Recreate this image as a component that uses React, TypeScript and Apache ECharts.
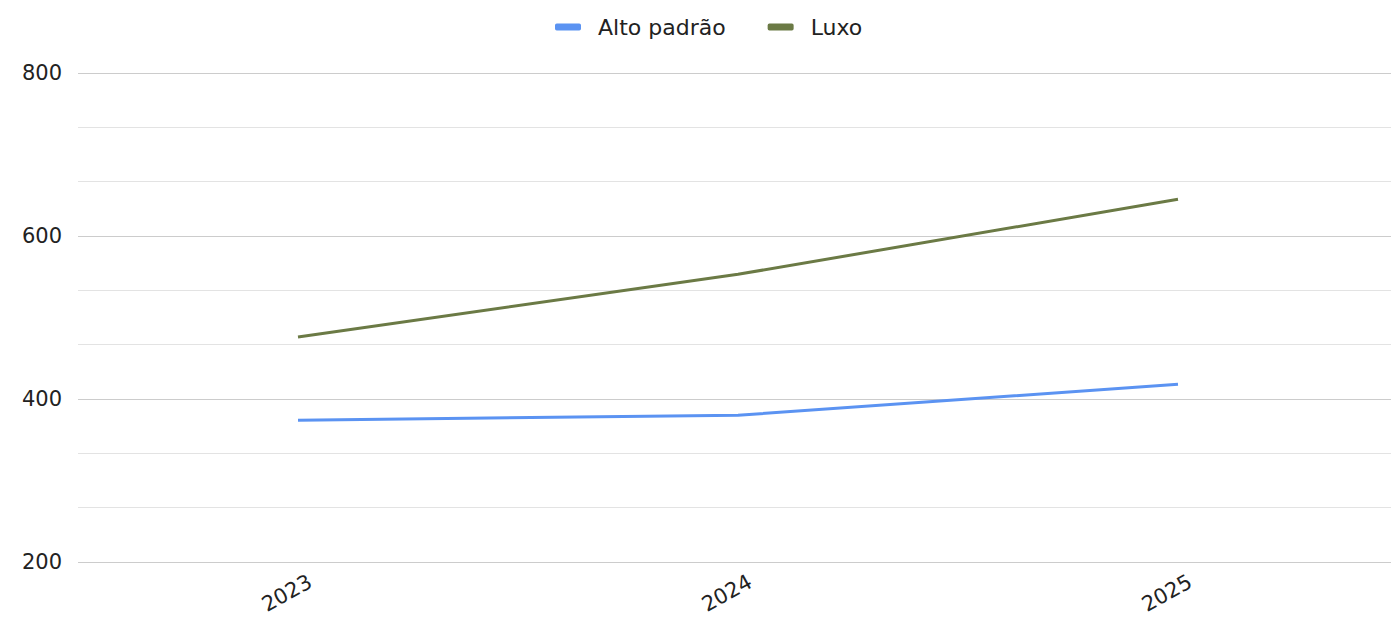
import React, { useEffect, useRef } from "react";
import * as echarts from "echarts";

const years = ["2023", "2024", "2025"];
const altoPadrao = [374, 380, 418];
const luxo = [476, 553, 645];
const yTicks = { min: 200, max: 800, interval: 200 };

export default function App() {
  const ref = useRef<HTMLDivElement>(null);

  useEffect(() => {
    const chart = echarts.init(ref.current!, undefined, { renderer: "svg" });
    const font = "'DejaVu Sans', 'Liberation Sans', sans-serif";
    chart.setOption({
      animation: false,
      textStyle: { fontFamily: font },
      legend: {
        top: 11,
        left: 550,
        itemWidth: 26,
        itemHeight: 7,
        itemGap: 42,
        icon: "roundRect",
        textStyle: { fontSize: 22, color: "#222", fontFamily: font, padding: [0, 0, 0, 12] },
        data: ["Alto padrão", "Luxo"],
      },
      grid: { left: 78, top: 73, width: 1320, height: 489, containLabel: false },
      xAxis: {
        type: "category",
        data: years,
        boundaryGap: true,
        axisLine: { show: false },
        axisTick: { show: false },
        axisLabel: {
          rotate: 29,
          fontSize: 21,
          color: "#222",
          margin: 25,
          padding: [0, -14, 0, 0],
          fontFamily: font,
        },
      },
      yAxis: {
        type: "value",
        min: yTicks.min,
        max: yTicks.max,
        interval: yTicks.interval,
        axisLine: { show: false },
        axisTick: { show: false },
        axisLabel: { fontSize: 21, color: "#222", margin: 16, fontFamily: font },
        splitLine: { lineStyle: { color: "#cccccc", width: 1 } },
        minorTick: { show: false, splitNumber: 3 },
        minorSplitLine: { show: true, lineStyle: { color: "#e3e3e3", width: 1 } },
      },
      series: [
        {
          name: "Alto padrão",
          type: "line",
          data: altoPadrao,
          symbol: "none",
          lineStyle: { color: "#5b93f2", width: 3 },
          itemStyle: { color: "#5b93f2" },
        },
        {
          name: "Luxo",
          type: "line",
          data: luxo,
          symbol: "none",
          lineStyle: { color: "#6b7a45", width: 3 },
          itemStyle: { color: "#6b7a45" },
        },
      ],
    });
    return () => chart.dispose();
  }, []);

  return (
    <div
      style={{
        position: "fixed",
        left: 0,
        top: 0,
        width: 1391,
        height: 617,
        overflow: "hidden",
        background: "#fff",
      }}
    >
      <div ref={ref} style={{ width: 1400, height: 617 }} />
    </div>
  );
}
